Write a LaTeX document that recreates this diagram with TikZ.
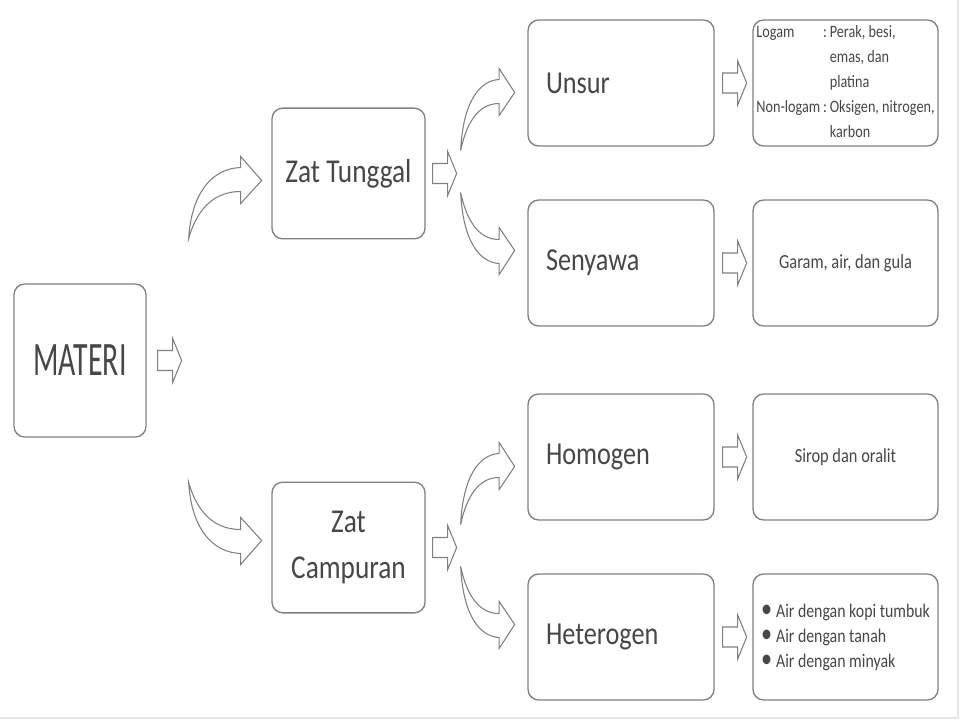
\documentclass[tikz,border=0pt]{standalone}
\usepackage{fontspec}
\setmainfont{Carlito}[FakeStretch=0.82]
\newfontfamily\titlefont{Carlito}[FakeStretch=0.62]
\usepackage{tikz}
\usetikzlibrary{calc}

% hollow straight block arrow, #1 = middle of its back end
\newcommand\flatarrow[1]{%
  \draw[blockarrow] #1 ++(0,-10) -- ++(15,0) -- ++(0,-12) -- ++(9,22)
    -- ++(-9,22) -- ++(0,-12) -- ++(-15,0) -- cycle;}
% hollow bent block arrow, #1 = scope options, #2 = tail point
\newcommand\bentarrow[2]{%
  \begin{scope}[shift={#2}, #1]
    \draw[blockarrow] (0,0) .. controls (3,-48) and (25,-70) .. (52,-71)
      -- (52,-82) -- (73,-58) -- (52,-35) -- (52,-47)
      .. controls (30,-47) and (10,-35) .. (0,0) -- cycle;
  \end{scope}}
\newcommand\dotitem{\raisebox{-0.1ex}{\scalebox{1.4}{\textbullet}}\hspace{3pt}}

\begin{document}
\begin{tikzpicture}[
  x=0.75pt, y=-0.75pt,
  box/.style={draw=black!50, line width=1pt, rounded corners=8pt, fill=white,
    text=black!72, inner sep=0pt},
  blockarrow/.style={draw=black!50, line width=0.8pt, fill=white},
  group/.style={box, minimum width=114.75pt, minimum height=98pt, align=center,
    font=\fontsize{25}{34}\selectfont},
  kind/.style={box, text width=112.5pt, inner xsep=13.5pt, minimum height=94.5pt,
    align=left, font=\fontsize{24}{28}\selectfont},
  info/.style={box, minimum width=138.75pt, minimum height=94.5pt, align=center,
    font=\fontsize{15}{18.75}\selectfont}
]
  \useasboundingbox (0,0) rectangle (960,720);
  \draw[black!10, line width=1pt] (0,718) -- (958,718) -- (958,0);

  \node[box, minimum width=99pt, minimum height=114.75pt,
    font=\titlefont\fontsize{36}{40}\selectfont] (materi) at (80,360.5) {MATERI};

  \node[group] (tunggal) at (348.5,173.5) {Zat Tunggal};
  \node[group] (campuran) at (348.5,547.5) {Zat\\Campuran};

  \node[kind] (unsur) at (621,83) {Unsur};
  \node[kind] (senyawa) at (621,263) {Senyawa};
  \node[kind] (homogen) at (621,457) {Homogen};
  \node[kind] (heterogen) at (621,637) {Heterogen};

  \node[info, font=\fontsize{13}{18.75}\selectfont] (unsurex) at (845.5,83)
    {\begin{tabular}{@{}l@{\,}l@{\,}l@{}}
      Logam & : & Perak, besi,\\
            &   & emas, dan\\
            &   & platina\\
      Non-logam & : & Oksigen, nitrogen,\\
            &   & karbon
    \end{tabular}};
  \node[info] (senyawaex) at (845.5,263) {Garam, air, dan gula};
  \node[info] (homogenex) at (845.5,457) {Sirop dan oralit};
  \node[info, font=\fontsize{14.5}{18.75}\selectfont] (heterogenex) at (845.5,637)
    {\begin{tabular}{@{}l@{}}
      \dotitem Air dengan kopi tumbuk\\
      \dotitem Air dengan tanah\\
      \dotitem Air dengan minyak
    \end{tabular}};

  % straight arrows
  \flatarrow{($(materi.east)+(11,0)$)}
  \flatarrow{($(tunggal.east)+(7,0)$)}
  \flatarrow{($(campuran.east)+(7,0)$)}
  \flatarrow{($(unsur.east)+(8,0)$)}
  \flatarrow{($(senyawa.east)+(8,0)$)}
  \flatarrow{($(homogen.east)+(8,0)$)}
  \flatarrow{($(heterogen.east)+(8,0)$)}

  % bent arrows
  \bentarrow{}{($(materi.east)+(42,-122)$)}
  \bentarrow{yscale=-1}{($(materi.east)+(42,122)$)}
  \bentarrow{xscale=0.74}{($(tunggal.east)+(35,-23)$)}
  \bentarrow{xscale=0.74, yscale=-1}{($(tunggal.east)+(35,19)$)}
  \bentarrow{xscale=0.74}{($(campuran.east)+(35,-23)$)}
  \bentarrow{xscale=0.74, yscale=-1}{($(campuran.east)+(35,19)$)}
\end{tikzpicture}
\end{document}
